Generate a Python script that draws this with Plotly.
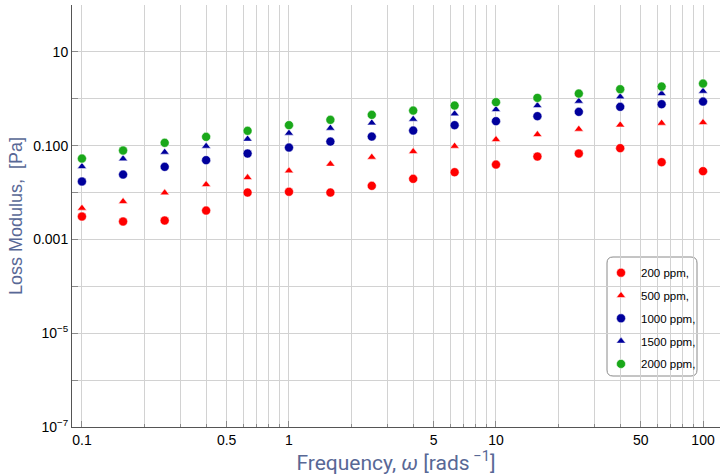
import plotly.graph_objects as go

# Angular frequency sweep (rad/s), 5 points per decade
omega = [0.1, 0.158, 0.251, 0.398, 0.631, 1.0, 1.585, 2.512, 3.981, 6.31,
         10.0, 15.85, 25.12, 39.81, 63.1, 100.0]

# Loss modulus G'' (Pa) for each polymer concentration
g2_200 = [0.00308, 0.00241, 0.00253, 0.00413, 0.0100, 0.0104, 0.0100, 0.0139,
          0.0196, 0.0272, 0.0395, 0.0586, 0.0679, 0.0885, 0.0445, 0.0286]
g2_500 = [0.00465, 0.00643, 0.00986, 0.0148, 0.0209, 0.0290, 0.0404, 0.0569,
          0.0748, 0.0975, 0.135, 0.173, 0.225, 0.277, 0.302, 0.311]
g2_1000 = [0.0172, 0.0242, 0.0353, 0.0491, 0.0679, 0.0911, 0.122, 0.156,
           0.210, 0.274, 0.333, 0.426, 0.526, 0.672, 0.767, 0.871]
g2_1500 = [0.0358, 0.0523, 0.0727, 0.0975, 0.138, 0.185, 0.236, 0.306,
           0.367, 0.477, 0.589, 0.716, 0.889, 1.10, 1.29, 1.45]
g2_2000 = [0.0531, 0.0787, 0.115, 0.154, 0.207, 0.274, 0.355, 0.454,
           0.560, 0.716, 0.847, 1.045, 1.29, 1.60, 1.82, 2.11]

series_names = ["200 ppm,", "500 ppm,", "1000 ppm,", "1500 ppm,", "2000 ppm,"]
series_values = [g2_200, g2_500, g2_1000, g2_1500, g2_2000]
series_symbols = ["circle", "triangle-up", "circle", "triangle-up", "circle"]
series_colors = ["#ff0000", "#ff0000", "#00009c", "#00009c", "#1aa81a"]
series_sizes = [9, 8, 9, 8, 9]

# Axis tick positions and labels
x_major = [0.1, 0.5, 1, 5, 10, 50, 100]
x_major_text = ["0.1", "0.5", "1", "5", "10", "50", "100"]
x_minor = [m * 10.0 ** e for e in (-1, 0, 1) for m in range(1, 10)] + [100]
x_minor = [v for v in x_minor if all(abs(v - t) > 1e-9 for t in x_major)]
y_major = [1e-7, 1e-5, 1e-3, 1e-1, 10]
y_major_text = ["10<sup>\u22127</sup>", "10<sup>\u22125</sup>", "0.001", "0.100", "10"]
y_minor = [1e-6, 1e-4, 1e-2, 1, 100]

title_color = "rgb(88,104,150)"
grid_color = "#d2d2d2"

W, H = 724, 475
M = dict(l=72, r=4, t=5, b=48)
PW, PH = W - M["l"] - M["r"], H - M["t"] - M["b"]


def rounded_box(x0, y0, x1, y1, r):
    """Rounded rectangle path in paper coordinates from pixel-space extents."""
    px = lambda v: (v - M["l"]) / PW
    py = lambda v: (H - M["b"] - v) / PH
    return (f"M {px(x0 + r)},{py(y0)} L {px(x1 - r)},{py(y0)} "
            f"Q {px(x1)},{py(y0)} {px(x1)},{py(y0 + r)} "
            f"L {px(x1)},{py(y1 - r)} Q {px(x1)},{py(y1)} {px(x1 - r)},{py(y1)} "
            f"L {px(x0 + r)},{py(y1)} Q {px(x0)},{py(y1)} {px(x0)},{py(y1 - r)} "
            f"L {px(x0)},{py(y0 + r)} Q {px(x0)},{py(y0)} {px(x0 + r)},{py(y0)} Z")


fig = go.Figure()
for name, vals, sym, col, sz in zip(series_names, series_values, series_symbols,
                                    series_colors, series_sizes):
    fig.add_trace(go.Scatter(
        x=omega, y=vals, mode="markers", name=name, legendgroup=name,
        marker=dict(symbol=sym, color=col, size=sz,
                    line=dict(color="white", width=0.5)),
    ))

fig.update_layout(
    width=W, height=H,
    margin=M,
    paper_bgcolor="white", plot_bgcolor="white",
    font=dict(family="Liberation Sans, Arial, sans-serif", size=14, color="black"),
    showlegend=True,
    legend=dict(
        x=(601 - M["l"]) / PW, y=0.40, xanchor="left", yanchor="top",
        bgcolor="rgba(0,0,0,0)", borderwidth=0,
        font=dict(size=11.5, color="black"),
        tracegroupgap=3.8,
    ),
    shapes=[dict(
        type="path", xref="paper", yref="paper",
        path=rounded_box(607, 257, 697, 376, 6),
        line=dict(color="#8a8a8a", width=1), fillcolor="white", layer="below",
    )],
)

fig.update_xaxes(
    type="log", range=[-1.048, 2.082],
    tickmode="array", tickvals=x_major, ticktext=x_major_text,
    ticks="inside", ticklen=6, tickcolor="#8a8a8a",
    showgrid=True, gridcolor=grid_color, gridwidth=1,
    minor=dict(tickmode="array", tickvals=x_minor, ticks="inside", ticklen=3,
               tickcolor="#8a8a8a", showgrid=True, gridcolor=grid_color, gridwidth=1),
    showline=True, linecolor="#555555", linewidth=1,
    zeroline=False,
    tickfont=dict(size=14),
    title=dict(text="Frequency, <i>\u03c9</i> [rads<sup> \u22121</sup>]",
               font=dict(family="Roboto, sans-serif", size=21, color=title_color),
               standoff=5),
)
fig.update_yaxes(
    type="log", range=[-7, 2],
    tickmode="array", tickvals=y_major, ticktext=y_major_text,
    ticks="inside", ticklen=6, tickcolor="#8a8a8a",
    showgrid=True, gridcolor=grid_color, gridwidth=1,
    minor=dict(tickmode="array", tickvals=y_minor, ticks="inside", ticklen=6,
               tickcolor="#8a8a8a", showgrid=True, gridcolor=grid_color, gridwidth=1),
    showline=True, linecolor="#555555", linewidth=1,
    zeroline=False,
    tickfont=dict(size=14),
    title=dict(text="Loss Modulus,  [Pa]",
               font=dict(family="Liberation Sans, Arial, sans-serif", size=18,
                         color=title_color),
               standoff=5),
)

fig.write_html("out.html")
